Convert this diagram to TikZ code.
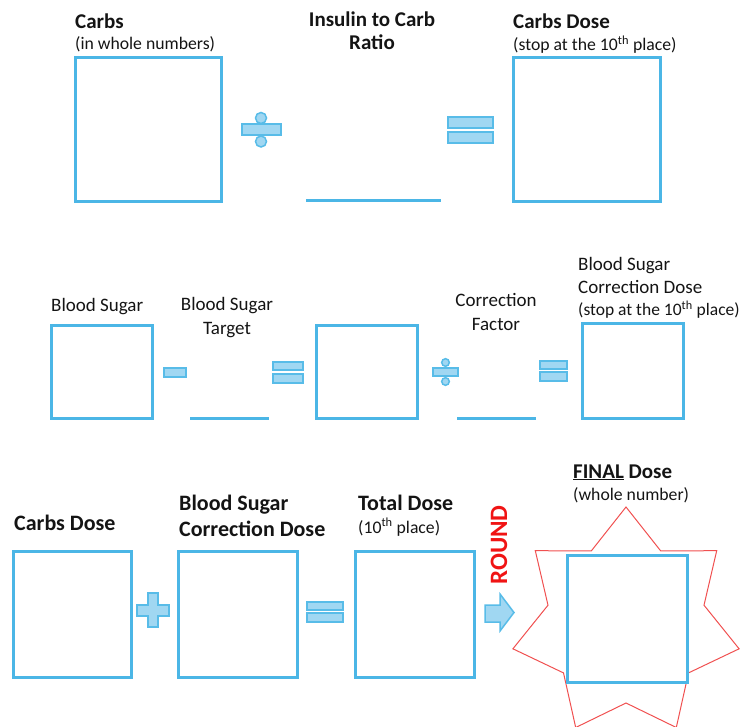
\documentclass[tikz,border=0pt]{standalone}
\usepackage{fontspec}
\setmainfont{Carlito}
\usetikzlibrary{calc}
\definecolor{boxblue}{RGB}{75,182,230}
\definecolor{symfill}{RGB}{160,215,242}
\definecolor{symline}{RGB}{88,188,232}
\definecolor{starred}{RGB}{240,80,80}
\definecolor{roundred}{RGB}{240,20,20}
\definecolor{txt}{RGB}{20,20,20}
\newcommand\bigfont{\fontsize{21}{25}\selectfont\bfseries}
\newcommand\bigfontb{\fontsize{22}{26}\selectfont\bfseries}
\newcommand\midfont{\fontsize{19}{23}\selectfont}
\newcommand\smallfont{\fontsize{17.7}{21}\selectfont}
\tikzset{
  box/.style={draw=boxblue, line width=3pt, inner sep=0pt},
  blank/.style={draw=boxblue, line width=3pt},
  sym/.style={fill=symfill, draw=symline, line width=1.5pt},
  lbl/.style={anchor=base west, inner sep=0pt, text=txt},
  clbl/.style={anchor=base, inner sep=0pt, text=txt},
}
\begin{document}
\begin{tikzpicture}[x=1pt,y=-1pt]
\useasboundingbox (0,0) rectangle (752,727);
% ---------- Row 1 ----------
\node[lbl,font=\bigfont] (t1) at (75,29) {Carbs};
\node[lbl,font=\smallfont] (t1s) at (75,50) {(in whole numbers)};
\node[box,minimum width=146pt,minimum height=144pt] (carbs) at (148,130) {};
\draw[sym] (242,124) rectangle (281,135);
\draw[sym] (261,118) circle (5.5);
\draw[sym] (261,141.5) circle (5.5);
\node[clbl,font=\bigfont] (t2) at (372,27) {Insulin to Carb};
\node[clbl,font=\bigfont] (t2b) at (372,50) {Ratio};
\coordinate (r1a) at (306,201);
\coordinate (r1b) at (441,201);
\draw[blank] (r1a) -- (r1b);
\draw[sym] (448,117) rectangle (493,128);
\draw[sym] (448,132) rectangle (493,143);
\node[lbl,font=\bigfont] (t3) at (513,29) {Carbs Dose};
\node[lbl,font=\smallfont] (t3s) at (513,51) {(stop at the 10\textsuperscript{th} place)};
\node[box,minimum width=147pt,minimum height=144pt] (cdose) at (586.5,130) {};
% ---------- Row 2 ----------
\node[lbl,font=\midfont] (t4) at (51,311) {Blood Sugar};
\node[box,minimum width=101pt,minimum height=93pt] (bs) at (101.5,371.5) {};
\draw[sym] (164,368) rectangle (186,377);
\node[clbl,font=\midfont] (t5) at (227,310) {Blood Sugar};
\node[clbl,font=\midfont] (t5b) at (227,334) {Target};
\coordinate (r2a) at (190,418);
\coordinate (r2b) at (269,418);
\draw[blank] (r2a) -- (r2b);
\draw[sym] (273,362) rectangle (303,370);
\draw[sym] (273,374) rectangle (303,383);
\node[box,minimum width=101pt,minimum height=93pt] (diff) at (366.5,371.5) {};
\draw[sym] (433,368) rectangle (458,376);
\draw[sym] (445.5,362.5) circle (3.8);
\draw[sym] (445.5,381.5) circle (3.8);
\node[clbl,font=\midfont] (t6) at (496,306) {Correction};
\node[clbl,font=\midfont] (t6b) at (496,330) {Factor};
\coordinate (r3a) at (457,418);
\coordinate (r3b) at (536,418);
\draw[blank] (r3a) -- (r3b);
\draw[sym] (540,361) rectangle (567,369);
\draw[sym] (540,372) rectangle (567,381);
\node[lbl,font=\midfont] (t7) at (578,271) {Blood Sugar};
\node[lbl,font=\midfont] (t7b) at (578,294) {Correction Dose};
\node[lbl,font=\fontsize{17.5}{21}\selectfont] (t7c) at (578,316) {(stop at the 10\textsuperscript{th} place)};
\node[box,minimum width=101pt,minimum height=95pt] (bscd) at (632.5,370.5) {};
% ---------- Row 3 ----------
\node[lbl,font=\bigfontb] (t8) at (14,530) {Carbs Dose};
\node[box,minimum width=118pt,minimum height=126pt] (cd3) at (72,614) {};
\draw[sym] (148,593) -- (158,593) -- (158,605) -- (169,605) -- (169,616) -- (158,616)
  -- (158,627) -- (148,627) -- (148,616) -- (137,616) -- (137,605) -- (148,605) -- cycle;
\node[lbl,font=\bigfontb] (t9) at (179,510) {Blood Sugar};
\node[lbl,font=\bigfontb] (t9b) at (179,536) {Correction Dose};
\node[box,minimum width=119pt,minimum height=126pt] (bscd3) at (237.5,614) {};
\draw[sym] (307,602) rectangle (343,610);
\draw[sym] (307,613) rectangle (343,622);
\node[lbl,font=\bigfontb] (t10) at (358,510) {Total Dose};
\node[lbl,font=\smallfont] (t10s) at (358,533) {(10\textsuperscript{th} place)};
\node[box,minimum width=119pt,minimum height=126pt] (total) at (414.5,614) {};
\node[anchor=center,inner sep=0pt,rotate=90,font=\fontsize{25}{28}\selectfont\bfseries,text=roundred] (round) at (499,545) {ROUND};
\draw[sym] (485,605) -- (500,605) -- (500,594) -- (514,612.5) -- (500,631) -- (500,622) -- (485,622) -- cycle;
% star
\draw[starred, line width=1pt, line join=miter]
  (626,507) -- (660.7,550.9) -- (716.7,550.7) -- (704.0,605.2) -- (739.1,648.8)
  -- (688.5,672.9) -- (676.3,727.5) -- (626,703) -- (575.7,727.5) -- (563.5,672.9)
  -- (512.9,648.8) -- (548.0,605.2) -- (535.3,550.7) -- (591.3,550.9) -- cycle;
\node[box,minimum width=120pt,minimum height=127pt] (final) at (627,618.5) {};
\node[lbl,font=\bigfont] (t11) at (573,478) {\underline{FINAL} Dose};
\node[lbl,font=\smallfont] (t11s) at (573,500) {(whole number)};
\end{tikzpicture}
\end{document}
